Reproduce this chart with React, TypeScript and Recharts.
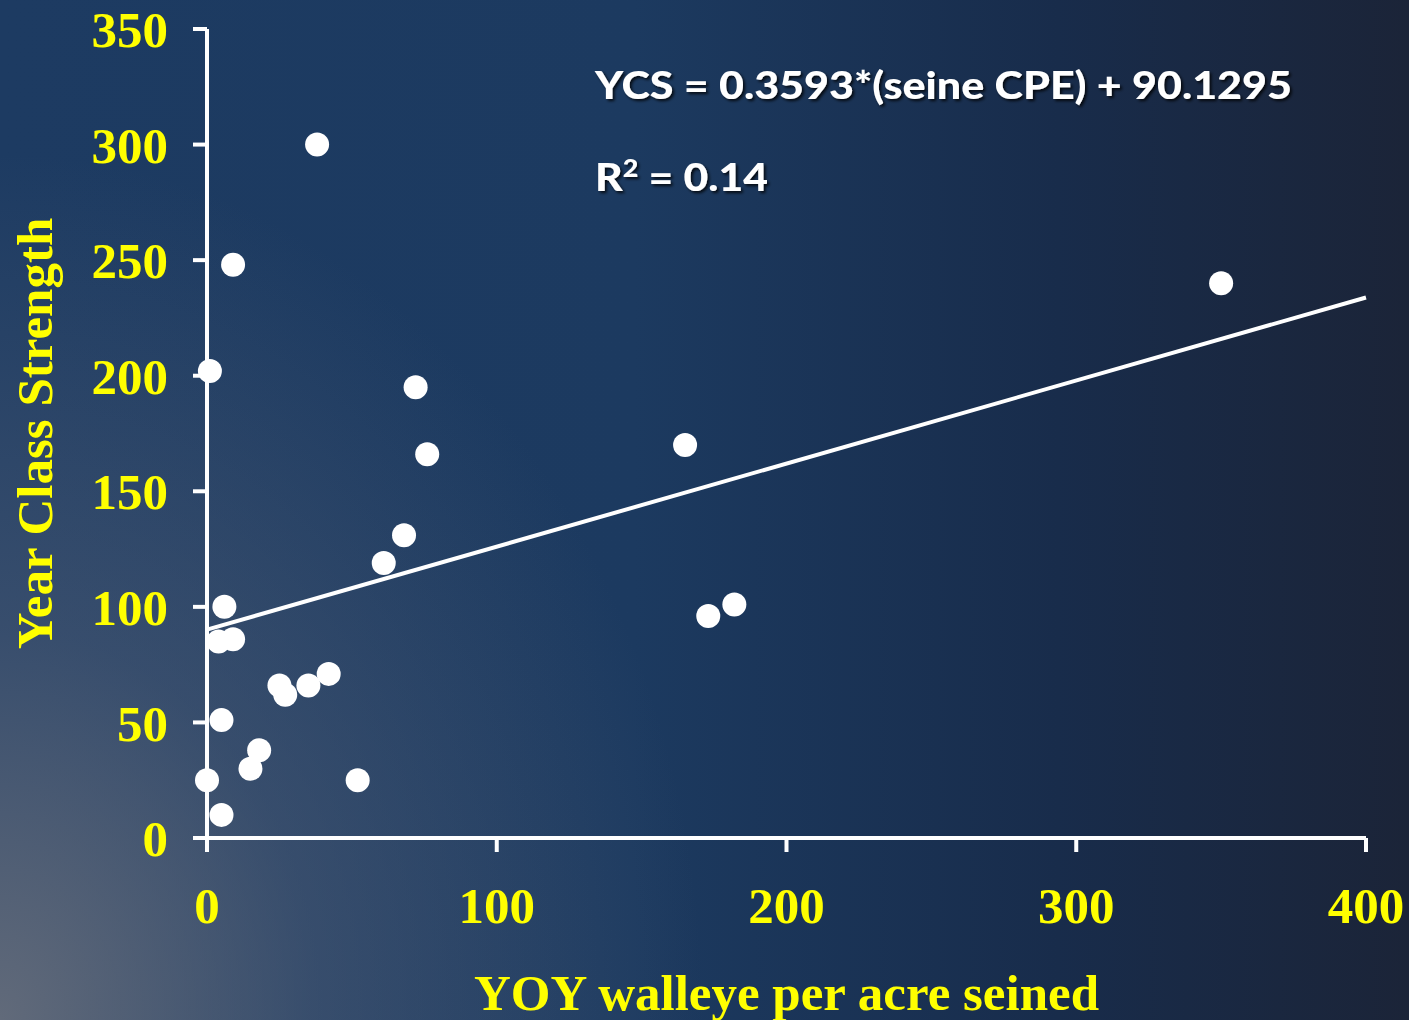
import React from 'react'
import { ScatterChart, Scatter, XAxis, YAxis, ReferenceLine, Label } from 'recharts'

// seine catch (YOY walleye per acre) vs. resulting year class strength
const seineCpe = [38, 9, 1, 72, 76, 165, 350, 68, 61, 6, 4, 9, 173, 182, 42, 25, 27, 35, 5, 18, 15, 0, 52, 5]
const yearClass = [300, 248, 202, 195, 166, 170, 240, 131, 119, 100, 85, 86, 96, 101, 71, 66, 62, 66, 51, 38, 30, 25, 25, 10]

const xTicks = [0, 100, 200, 300, 400]
const yTicks = [0, 50, 100, 150, 200, 250, 300, 350]

// least-squares fit shown in the annotation
const slope = 0.3593
const intercept = 90.1295
const rSquared = '0.14'

const points = seineCpe.map((x, i) => ({ x, y: yearClass[i] }))

const W = 1409
const H = 1020
const YELLOW = '#ffff00'
const serif = "'Liberation Serif', 'Times New Roman', serif"
const sans = "Lato, 'Open Sans', 'Liberation Sans', sans-serif"

const tickStyle = { fill: YELLOW, fontFamily: serif, fontWeight: 700, fontSize: 51 }

function Dot(props: any) {
  return <circle cx={props.cx} cy={props.cy} r={12} fill="#ffffff" />
}

function XTitle({ viewBox }: any) {
  return (
    <text x={viewBox.x + viewBox.width / 2} y={viewBox.y + 172} textAnchor="middle"
      fill={YELLOW} fontFamily={serif} fontWeight={700} fontSize={51}>
      YOY walleye per acre seined
    </text>
  )
}

function YTitle({ viewBox }: any) {
  const cy = viewBox.y + viewBox.height / 2
  return (
    <text x={52} y={cy} transform={`rotate(-90, 52, ${cy})`} textAnchor="middle"
      fill={YELLOW} fontFamily={serif} fontWeight={700} fontSize={51}>
      Year Class Strength
    </text>
  )
}

export default function App() {
  const fitEnd = 400
  return (
    <div style={{
      position: 'absolute', left: 0, top: 0, width: W, height: H, overflow: 'hidden',
      background: 'radial-gradient(ellipse 50% 85% at 0% 100%, rgba(120,122,130,0.75) 0%, rgba(95,105,125,0.4) 45%, rgba(60,80,110,0) 100%), linear-gradient(90deg, #1d3b62 0%, #1c3a60 45%, #182c4b 75%, #1b2438 100%)',
    }}>
      <ScatterChart width={W} height={H} margin={{ top: 29, right: 43, bottom: 122, left: 87 }}>
        <XAxis type="number" dataKey="x" domain={[0, 400]} ticks={xTicks} interval={0}
          height={60} stroke="#ffffff" strokeWidth={4} tickSize={14} tickMargin={35}
          axisLine={{ stroke: '#ffffff', strokeWidth: 4 }}
          tickLine={{ stroke: '#ffffff', strokeWidth: 4 }}
          tick={tickStyle}>
          <Label content={<XTitle />} />
        </XAxis>
        <YAxis type="number" dataKey="y" domain={[0, 350]} ticks={yTicks} interval={0}
          width={120} stroke="#ffffff" strokeWidth={4} tickSize={14} tickMargin={25}
          axisLine={{ stroke: '#ffffff', strokeWidth: 4 }}
          tickLine={{ stroke: '#ffffff', strokeWidth: 4 }}
          tick={tickStyle}>
          <Label content={<YTitle />} />
        </YAxis>
        <ReferenceLine
          segment={[{ x: 0, y: intercept }, { x: fitEnd, y: slope * fitEnd + intercept }]}
          stroke="#ffffff" strokeWidth={4} ifOverflow="visible" />
        <Scatter data={points} shape={<Dot />} isAnimationActive={false} />
      </ScatterChart>

      {/* regression annotation */}
      <svg width={W} height={H} style={{ position: 'absolute', left: 0, top: 0, pointerEvents: 'none' }}>
        <defs>
          <filter id="txtShadow" x="-5%" y="-30%" width="110%" height="160%">
            <feDropShadow dx="2" dy="2" stdDeviation="1.5" floodColor="#000000" floodOpacity="0.8" />
          </filter>
        </defs>
        <g fill="#ffffff" fontFamily={sans} fontWeight={900} filter="url(#txtShadow)">
          <text x={595} y={99} fontSize={38} textLength={697} lengthAdjust="spacingAndGlyphs">
            {`YCS = ${slope}*(seine CPE) + ${intercept}`}
          </text>
          <text x={595} y={191} fontSize={38} textLength={173} lengthAdjust="spacingAndGlyphs">
            R<tspan dy={-14} fontSize={24}>2</tspan><tspan dy={14}>{` = ${rSquared}`}</tspan>
          </text>
        </g>
      </svg>
    </div>
  )
}
